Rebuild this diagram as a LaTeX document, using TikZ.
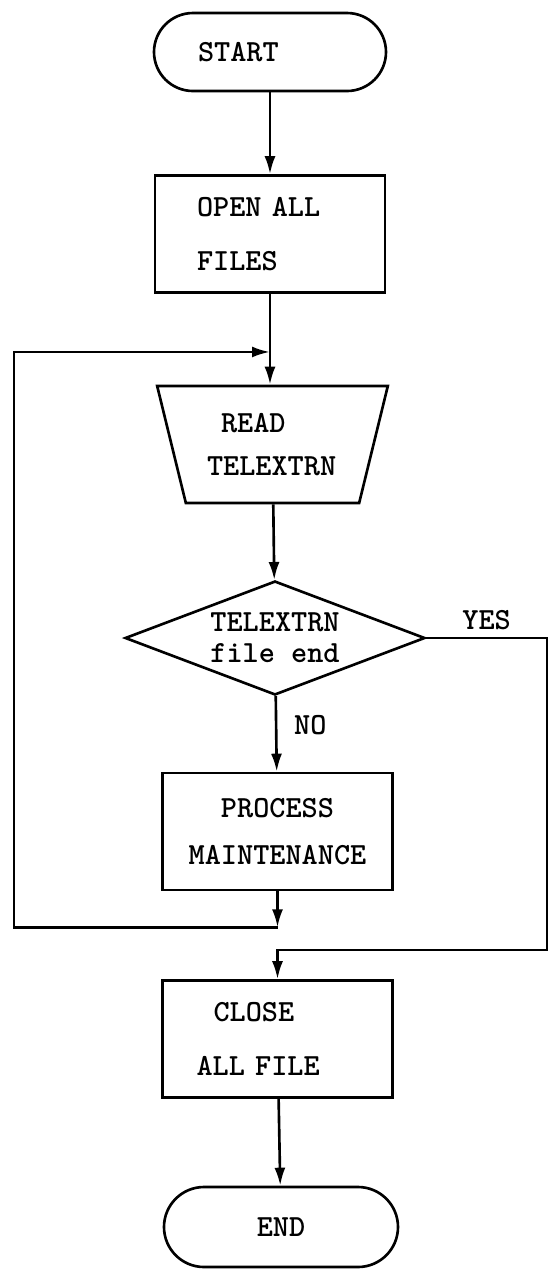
\documentclass[tikz,border=0pt]{standalone}
\usepackage{tikz}
\usetikzlibrary{
  arrows.meta,
  positioning,
  shapes.geometric,
  calc
}
\newcommand{\chartfont}{\fontsize{17.5}{17.5}\selectfont\ttfamily\bfseries}
\tikzset{
  termbox/.style={
    draw,
    line width=1.5pt,
    rounded corners=0.78cm,
    minimum width=4.64cm,
    minimum height=1.56cm,
    inner sep=2pt,
    font=\chartfont,
  },
  procbox/.style={
    draw,
    line width=1.5pt,
    minimum width=4.6cm,
    minimum height=2.34cm,
    inner sep=2pt,
    align=center,
    font=\chartfont,
  },
  readbox/.style={
    draw,
    line width=1.5pt,
    trapezium,
    shape border rotate=180,
    trapezium left angle=72,
    trapezium right angle=72,
    trapezium stretches=true,
    minimum width=4.62cm,
    minimum height=2.34cm,
    inner sep=2pt,
    align=center,
    font=\chartfont,
  },
  askbox/.style={
    draw,
    line width=1.5pt,
    diamond,
    aspect=2.6,
    minimum width=6cm,
    minimum height=2.28cm,
    inner sep=0pt,
    align=center,
    font=\chartfont,
  },
  arr/.style={
    -{Latex[length=3.6mm,width=2.2mm]},
    line width=1.5pt,
  },
  lbl/.style={
    font=\chartfont,
    inner sep=1pt,
  },
}

\begin{document}
\begin{tikzpicture}[x=1cm, y=1cm]
  \useasboundingbox (0,0) rectangle (11.08,-25.56);

  % main column
  \node[termbox, align=left, text width=2.88cm, inner xsep=0.88cm] (start) at (5.40,-1.04) {START};
  \node[procbox, align=left, text width=2.92cm, inner xsep=0.84cm] (open) at (5.40,-4.68) {OPEN ALL\\[0.48cm]FILES};
  \node[readbox, align=left, text width=2.62cm] (read) at (5.45,-8.89) {\hspace*{0.28cm}READ\\[0.26cm]TELEXTRN};
  \node[askbox] (decide) at (5.50,-12.76) {TELEXTRN\\file end};
  \node[procbox] (proc) at (5.55,-16.63) {PROCESS\\[0.32cm]MAINTENANCE};
  \node[procbox, align=left, text width=3.24cm, inner xsep=0.68cm] (close) at (5.55,-20.78) {\hspace*{0.34cm}CLOSE\\[0.46cm]ALL FILE};
  \node[termbox, minimum width=4.68cm, minimum height=1.6cm, rounded corners=0.8cm] (end) at (5.62,-24.54) {END};

  \draw[arr] (start) -- (open);
  \coordinate (loopin) at ($(open.south)!0.64!(open.south |- read.north)$);
  \draw[arr] (open) -- (open |- read.north);
  \draw[arr] (read) -- (decide);
  \draw[arr] (decide) -- node[lbl, right=0.3cm, pos=0.39] {NO} (proc);

  % loop back to READ
  \coordinate (loopbot) at ($(proc.south)+(0,-0.72)$);
  \coordinate (loopleft) at (0.28,-18.5);
  \draw[arr] (proc) -- (loopbot);
  \draw[arr] (loopbot) -- (loopbot -| loopleft) |- (loopin);

  % end of file
  \coordinate (yescorner) at (10.94,-19.0);
  \draw[arr] (decide.east) -| node[lbl, above=3pt, pos=0.25] {YES} (yescorner) -| (close.north);

  \draw[arr] (close) -- (end);
\end{tikzpicture}
\end{document}
